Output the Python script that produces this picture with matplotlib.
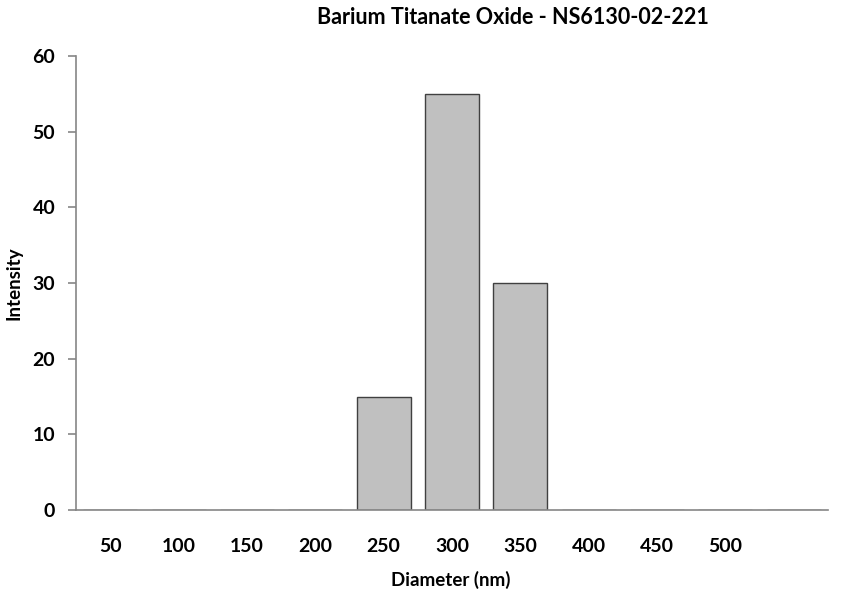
import matplotlib
matplotlib.use("Agg")
import matplotlib.pyplot as plt

# Size distribution data
diameters = ["50", "100", "150", "200", "250", "300", "350", "400", "450", "500", ""]
intensity = [0, 0, 0, 0, 15, 55, 30, 0, 0, 0, 0]

plt.rcParams['font.family'] = ['Lato', 'DejaVu Sans']
plt.rcParams['font.weight'] = 'bold'

fig = plt.figure(figsize=(8.46, 5.99), dpi=100)
ax = fig.add_axes([76/846, 1 - 510/599, (828-76)/846, (510-56)/599])

xs = list(range(len(diameters)))
ax.bar(xs, intensity, width=0.79, color='#c0c0c0', edgecolor='#404040', linewidth=1)

ax.set_xlim(-0.5, len(diameters) - 0.5)
ax.set_ylim(0, 60)
ax.set_yticks(range(0, 61, 10))
ax.set_xticks(xs)
ax.set_xticklabels(diameters)

for s in ['top', 'right']:
    ax.spines[s].set_visible(False)
for s in ['left', 'bottom']:
    ax.spines[s].set_color('#868686')
    ax.spines[s].set_linewidth(1.2)

ax.tick_params(axis='y', direction='out', length=6, color='#868686', width=1.2, pad=9, labelsize=14)
ax.tick_params(axis='x', length=0, pad=20, labelsize=14)

fig.text(451/846, 1 - 580/599, "Diameter (nm)", ha='center', va='center', fontsize=13.5, fontweight='bold')
fig.text(14/846, 1 - 283/599, "Intensity", ha='center', va='center', rotation=90,
         fontsize=13.5, fontweight='bold')
fig.text(513/846, 1 - 17/599, "Barium Titanate Oxide - NS6130-02-221", ha='center', va='center',
         fontsize=15.5, fontweight='bold')

fig.savefig("out.png", dpi=100)
